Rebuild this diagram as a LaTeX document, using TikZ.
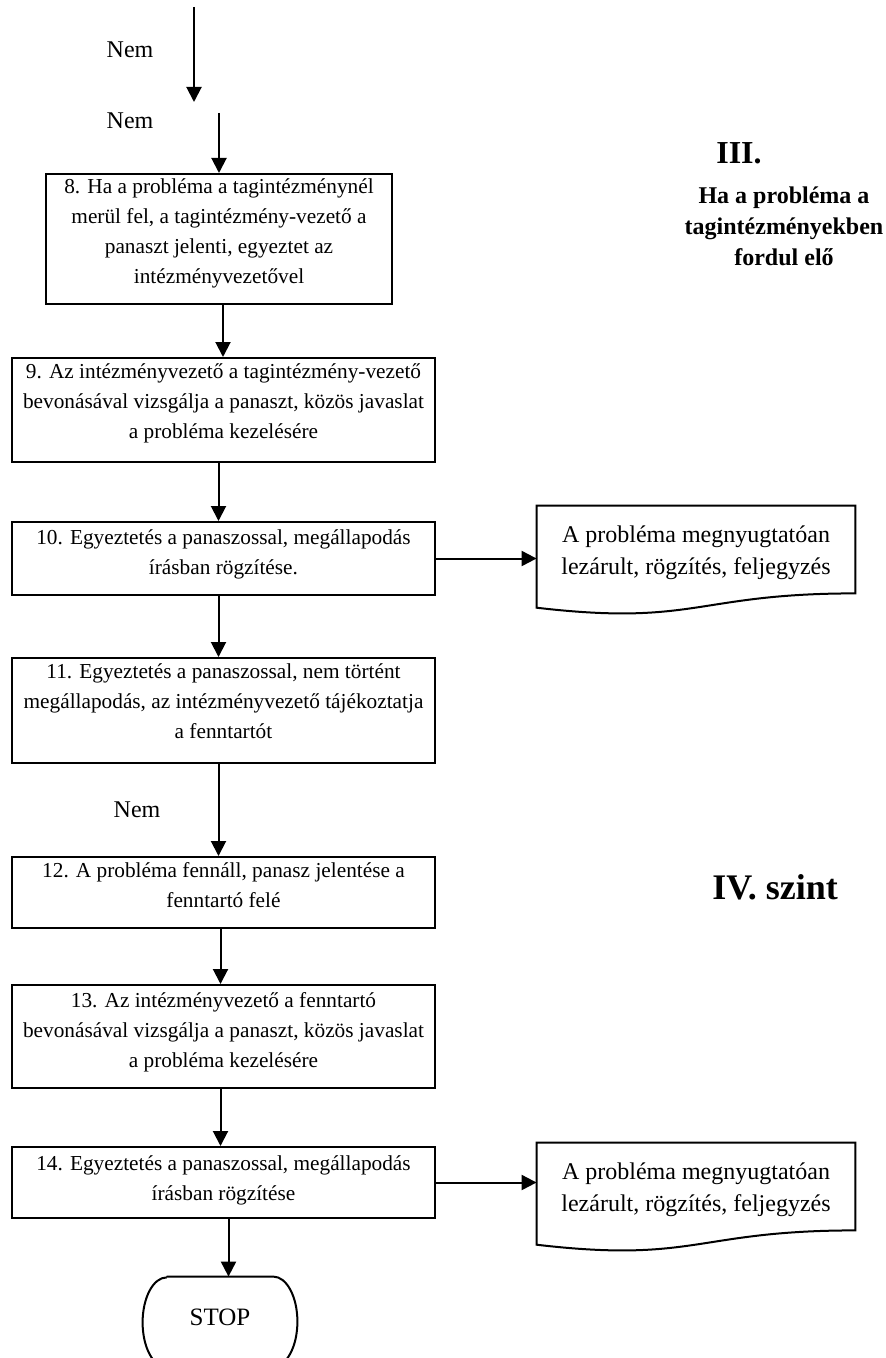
\documentclass[tikz,border=0pt]{standalone}
\usepackage{fontspec}
\setmainfont{Liberation Serif}
\usetikzlibrary{positioning,arrows.meta,calc}
\tikzset{box/.style={draw,line width=1pt,rectangle,inner sep=0pt},
  boxtext/.style={align=center,inner sep=0pt,anchor=north,font=\fontsize{10.65}{15}\selectfont},
  doctext/.style={align=center,inner sep=0pt,anchor=north,font=\fontsize{12}{16}\selectfont},
  flow/.style={line width=1pt,-{Triangle[length=7.5pt,width=7.5pt]}},
  lbl/.style={inner sep=0pt,font=\fontsize{12}{14}\selectfont}}

\begin{document}
\begin{tikzpicture}[x=0.5pt,y=-0.5pt]
\clip (0,0) rectangle (886,1358);

% belépő nyilak
\coordinate (in1) at (194,7);
\coordinate (in1e) at (194,102);
\coordinate (in2) at (219,113);
\node[lbl] (nem1) at (130,50) {Nem};
\node[lbl] (nem2) at (130,121) {Nem};

% III. szint
\node[box,minimum width=173pt,minimum height=65pt] (b8) at (219,239) {};
\node[boxtext] (t8) at ([yshift=-2.5pt]b8.north) {8. Ha a probléma a tagintézménynél\\merül fel, a tagintézmény-vezető a\\panaszt jelenti, egyeztet az\\intézményvezetővel};
\node[box,minimum width=211.5pt,minimum height=52pt] (b9) at (223.5,410) {};
\node[boxtext] (t9) at ([yshift=-3pt]b9.north) {9. Az intézményvezető a tagintézmény-vezető\\bevonásával vizsgálja a panaszt, közös javaslat\\a probléma kezelésére};
\node[box,minimum width=211.5pt,minimum height=36.5pt] (b10) at (223.5,558.5) {};
\node[boxtext] (t10) at ([yshift=-4pt]b10.north) {10. Egyeztetés a panaszossal, megállapodás\\írásban rögzítése.};
\node[box,minimum width=211.5pt,minimum height=52.5pt] (b11) at (223.5,710.5) {};
\node[boxtext] (t11) at ([yshift=-3pt]b11.north) {11. Egyeztetés a panaszossal, nem történt\\megállapodás, az intézményvezető tájékoztatja\\a fenntartót};
\node[lbl] (nem3) at (137,810) {Nem};

% IV. szint
\node[box,minimum width=211.5pt,minimum height=35.5pt] (b12) at (223.5,892.5) {};
\node[boxtext] (t12) at ([yshift=-3pt]b12.north) {12. A probléma fennáll, panasz jelentése a\\fenntartó felé};
\node[box,minimum width=211.5pt,minimum height=51.5pt] (b13) at (223.5,1036.5) {};
\node[boxtext] (t13) at ([yshift=-4pt]b13.north) {13. Az intézményvezető a fenntartó\\bevonásával vizsgálja a panaszt, közös javaslat\\a probléma kezelésére};
\node[box,minimum width=211.5pt,minimum height=35.5pt] (b14) at (223.5,1182.5) {};
\node[boxtext] (t14) at ([yshift=-4.5pt]b14.north) {14. Egyeztetés a panaszossal, megállapodás\\írásban rögzítése};

% dokumentum alakzatok
\node[minimum width=159pt,minimum height=54.25pt,inner sep=0pt] (d1) at (696,560.25) {};
\node[minimum width=159pt,minimum height=54.25pt,inner sep=0pt] (d2) at (696,1197.25) {};
\foreach \d in {d1,d2}
  \draw[line width=1pt] (\d.north west) -- (\d.north east) -- ([yshift=10.75pt]\d.south east)
    .. controls ([yshift=10.75pt]\d.south) and ([yshift=-5.75pt]\d.south) .. ([yshift=3.6pt]\d.south west) -- cycle;
\node[doctext] (t1) at ([yshift=-10pt]d1.north) {A probléma megnyugtatóan\\lezárult, rögzítés, feljegyzés};
\node[doctext] (t2) at ([yshift=-10pt]d2.north) {A probléma megnyugtatóan\\lezárult, rögzítés, feljegyzés};

% STOP
\node[minimum width=77pt,minimum height=45pt,inner sep=0pt] (stop) at (220,1322) {};
\draw[line width=1pt] ([xshift=12pt]stop.north west) -- ([xshift=-12pt]stop.north east)
  arc[start angle=90,end angle=-90,x radius=12pt,y radius=22.5pt]
  -- ([xshift=12pt]stop.south west)
  arc[start angle=270,end angle=90,x radius=12pt,y radius=22.5pt];
\node[lbl,font=\fontsize{12.5}{14}\selectfont] (stopt) at (220,1317) {STOP};

% szint feliratok
\node[inner sep=0pt,font=\fontsize{16}{18}\bfseries] (szint3) at (739,153) {III.};
\node[inner sep=0pt,align=center,font=\fontsize{12}{15.5}\bfseries] (szint3t) at (784,226) {Ha a probléma a\\tagintézményekben\\fordul elő};
\node[inner sep=0pt,anchor=base west,font=\fontsize{18}{20}\bfseries] (szint4) at (712,899) {IV. szint};

% nyilak
\draw[flow] (in1) -- (in1e);
\draw[flow] (in2) -- (b8.north);
\draw[flow] ([xshift=2pt]b8.south) -- ([xshift=2pt]b8.south |- b9.north);
\draw[flow] ([xshift=-2.5pt]b9.south) -- ([xshift=-2.5pt]b10.north);
\draw[flow] ([xshift=-2.5pt]b10.south) -- ([xshift=-2.5pt]b11.north);
\draw[flow] ([xshift=-2.5pt]b11.south) -- ([xshift=-2.5pt]b12.north);
\draw[flow] ([xshift=-1.5pt]b12.south) -- ([xshift=-1.5pt]b13.north);
\draw[flow] ([xshift=-1.5pt]b13.south) -- ([xshift=-1.5pt]b14.north);
\draw[flow] ([xshift=2.5pt]b14.south) -- ([xshift=2.5pt]b14.south |- stop.north);
\draw[flow] (b10.east) -- (b10.east -| d1.west);
\draw[flow] (b14.east) -- (b14.east -| d2.west);
\end{tikzpicture}
\end{document}
